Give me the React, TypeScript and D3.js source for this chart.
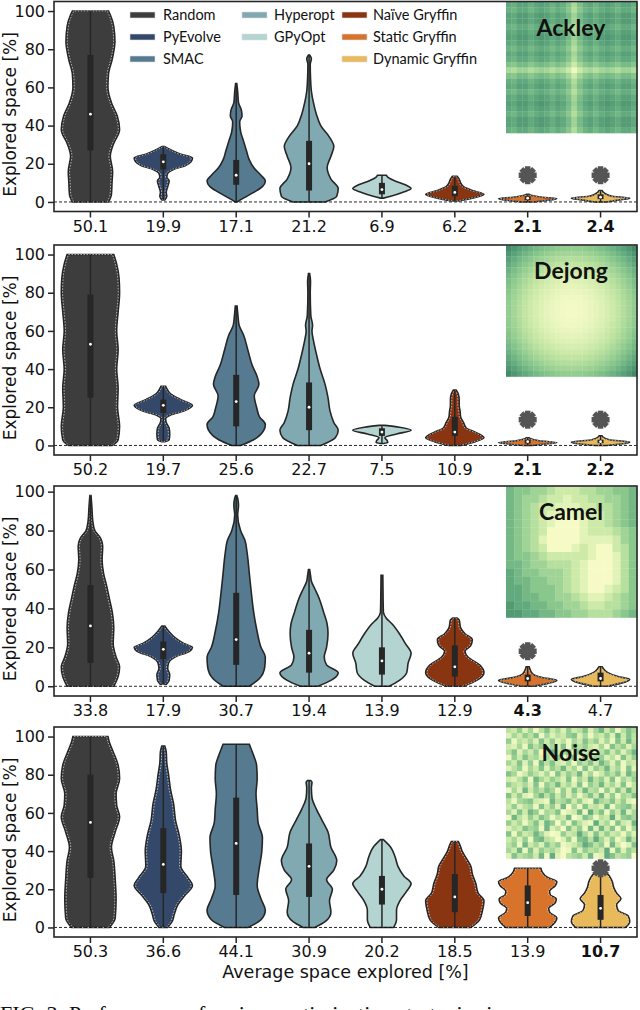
import React, { useEffect, useRef } from "react";
import * as d3 from "d3";

// optimizers, in plotting order
const methods = ["Random", "PyEvolve", "SMAC", "Hyperopt", "GPyOpt", "Naïve Gryffin", "Static Gryffin", "Dynamic Gryffin"];
const methodColors = ["#3d3d3d", "#34496a", "#567b91", "#80a9b1", "#b3d4d0", "#8a3511", "#d8732b", "#e8ba5c"];
const legendCol = [0, 0, 0, 1, 1, 2, 2, 2];
const legendRow = [0, 1, 2, 0, 1, 0, 1, 2];
const withInnerDash = [0, 1, 5, 6, 7];

const panelNames = ["Ackley", "Dejong", "Camel", "Noise"];

// average explored space (x tick labels)
const ackleyAvg = ["50.1", "19.9", "17.1", "21.2", "6.9", "6.2", "2.1", "2.4"];
const dejongAvg = ["50.2", "19.7", "25.6", "22.7", "7.5", "10.9", "2.1", "2.2"];
const camelAvg = ["33.8", "17.9", "30.7", "19.4", "13.9", "12.9", "4.3", "4.7"];
const noiseAvg = ["50.3", "36.6", "44.1", "30.9", "20.2", "18.5", "13.9", "10.7"];
const ackleyBold = [6, 7];
const dejongBold = [6, 7];
const camelBold = [6];
const noiseBold = [7];

// violin outlines: [explored %, relative half width]
const ackleyShapes = [
  [[0, 0.62], [4, 0.72], [10, 0.74], [16, 0.76], [24, 0.68], [30, 0.78], [38, 1.0], [45, 0.92], [52, 0.72], [60, 0.6], [67, 0.62], [75, 0.75], [84, 0.84], [92, 0.8], [98, 0.68], [100, 0.62]],
  [[1, 0.05], [3, 0.12], [5, 0.1], [8, 0.15], [11, 0.2], [13, 0.12], [15, 0.15], [17, 0.35], [19, 0.75], [21, 0.95], [23, 1.0], [25, 0.6], [27, 0.3], [29, 0.05]],
  [[0, 0.03], [2, 0.25], [5, 0.6], [8, 0.9], [11, 1.0], [14, 0.85], [18, 0.6], [22, 0.45], [27, 0.35], [32, 0.25], [37, 0.15], [42, 0.12], [45, 0.2], [48, 0.18], [52, 0.08], [58, 0.05], [62, 0.02]],
  [[0, 0.55], [3, 0.95], [7, 1.0], [12, 0.75], [18, 0.62], [24, 0.75], [29, 0.85], [34, 0.7], [40, 0.4], [46, 0.25], [52, 0.15], [58, 0.08], [65, 0.05], [72, 0.04], [75, 0.08], [77, 0.02]],
  [[2, 0.05], [3, 0.3], [5, 0.7], [7, 1.0], [9, 0.8], [11, 0.45], [13, 0.2], [14, 0.15]],
  [[0.5, 0.1], [2, 0.6], [4, 1.0], [6, 0.6], [8, 0.3], [10, 0.2], [12, 0.15], [13.5, 0.08]],
  [[0, 0.2], [1, 0.8], [1.8, 1.0], [2.5, 0.5], [3.5, 0.12], [4, 0.05]],
  [[0, 0.2], [1.2, 0.7], [2, 1.0], [3, 0.4], [4, 0.2], [5, 0.1], [6, 0.05]],
];
// inner box: [low whisker, q1, median, q3, high whisker]
const ackleyBoxes = [[0, 27, 46, 77, 100], [1, 17, 21, 25, 29], [0, 9, 14, 22, 62], [0, 6, 20, 32, 77], [2, 4, 6.5, 10, 14], [0.5, 3, 5, 8.5, 13], [0, 1, 2, 3, 4], [0, 1.5, 2.5, 4, 6]];

const dejongShapes = [
  [[0, 0.75], [3, 0.95], [10, 1.0], [20, 0.93], [30, 0.95], [40, 0.9], [50, 0.95], [60, 0.9], [70, 0.95], [80, 1.0], [88, 0.98], [95, 0.9], [100, 0.8]],
  [[2, 0.05], [3, 0.2], [6, 0.22], [9, 0.2], [12, 0.1], [14, 0.08], [16, 0.25], [18, 0.7], [21, 1.0], [24, 0.6], [27, 0.25], [29, 0.15], [31, 0.08]],
  [[0, 0.15], [3, 0.6], [8, 0.95], [11, 1.0], [15, 0.8], [20, 0.7], [26, 0.62], [32, 0.78], [36, 0.72], [42, 0.55], [50, 0.4], [58, 0.25], [63, 0.1], [68, 0.06], [73, 0.03]],
  [[0, 0.4], [4, 0.9], [8, 1.0], [12, 0.85], [18, 0.72], [25, 0.65], [32, 0.55], [40, 0.38], [48, 0.25], [55, 0.15], [60, 0.1], [63, 0.12], [68, 0.06], [80, 0.04], [86, 0.05], [90, 0.02]],
  [[1, 0.05], [1.5, 0.2], [2.5, 0.18], [4, 0.1], [6, 0.5], [8, 1.0], [9.5, 0.6], [10.5, 0.1]],
  [[0, 0.2], [2, 0.7], [4, 1.0], [7, 0.7], [9, 0.4], [12, 0.3], [15, 0.2], [18, 0.18], [21, 0.15], [24, 0.15], [27, 0.12], [29, 0.05]],
  [[0, 0.15], [1, 0.8], [1.5, 1.0], [2.5, 0.4], [3.5, 0.1], [4, 0.05]],
  [[0, 0.2], [1, 0.85], [1.8, 1.0], [3, 0.3], [4, 0.12], [5, 0.05]],
];
const dejongBoxes = [[0, 25, 53, 79, 100], [2, 17, 21, 24, 31], [0, 10, 23, 37, 73], [0, 8, 20, 33, 90], [1, 5, 7, 9, 10], [0, 5, 7, 15, 29], [0, 1, 2, 3, 4], [0, 1.2, 2, 3, 5]];

const camelShapes = [
  [[0, 0.8], [5, 0.95], [10, 1.0], [15, 0.88], [22, 0.78], [30, 0.8], [38, 0.75], [45, 0.65], [52, 0.55], [58, 0.45], [65, 0.4], [72, 0.42], [76, 0.35], [80, 0.15], [85, 0.08], [92, 0.05], [98, 0.02]],
  [[1, 0.1], [3, 0.2], [6, 0.22], [9, 0.15], [12, 0.18], [15, 0.4], [18, 0.9], [20, 1.0], [22, 0.7], [25, 0.4], [28, 0.2], [31, 0.05]],
  [[0, 0.45], [4, 0.8], [10, 0.98], [15, 1.0], [20, 0.85], [28, 0.72], [38, 0.6], [48, 0.52], [58, 0.45], [68, 0.38], [75, 0.3], [80, 0.15], [88, 0.05], [93, 0.08], [96, 0.06], [98, 0.02]],
  [[0, 0.3], [3, 0.75], [7, 1.0], [11, 0.6], [15, 0.52], [20, 0.6], [27, 0.65], [32, 0.62], [38, 0.5], [45, 0.35], [50, 0.2], [54, 0.08], [57, 0.05], [60, 0.02]],
  [[0, 0.25], [3, 0.6], [7, 0.85], [12, 0.9], [17, 1.0], [22, 0.8], [27, 0.6], [32, 0.35], [35, 0.15], [38, 0.05], [45, 0.04], [57, 0.03]],
  [[0, 0.3], [3, 0.75], [7, 1.0], [11, 0.85], [15, 0.45], [18, 0.35], [21, 0.55], [24, 0.6], [27, 0.35], [30, 0.2], [34, 0.15], [35, 0.08]],
  [[0, 0.15], [1.5, 0.7], [3, 1.0], [4.5, 0.5], [6, 0.2], [8, 0.1], [10, 0.05]],
  [[0, 0.2], [2, 0.8], [3.5, 1.0], [5, 0.6], [7, 0.25], [9, 0.1], [10, 0.05]],
];
const camelBoxes = [[0, 12, 31, 52, 98], [1, 14, 19, 23, 31], [0, 11, 24, 48, 98], [0, 7, 17, 29, 60], [0, 6, 13, 20, 57], [0, 5, 10, 21, 35], [0, 2.5, 4, 6, 10], [0, 2.5, 4, 7, 10]];

const noiseShapes = [
  [[0, 0.65], [5, 0.85], [15, 0.88], [25, 0.85], [35, 0.8], [42, 0.72], [50, 0.85], [58, 1.0], [64, 0.9], [70, 0.88], [78, 1.0], [85, 0.95], [92, 0.78], [97, 0.65], [100, 0.6]],
  [[0, 0.15], [3, 0.3], [7, 0.38], [12, 0.5], [17, 0.75], [22, 1.0], [26, 0.85], [32, 0.6], [40, 0.62], [48, 0.55], [56, 0.42], [65, 0.35], [72, 0.25], [80, 0.18], [86, 0.12], [92, 0.1], [95, 0.05]],
  [[0, 0.4], [4, 0.85], [9, 1.0], [15, 0.85], [22, 0.72], [30, 0.78], [40, 0.88], [47, 0.9], [55, 0.75], [62, 0.72], [70, 0.68], [78, 0.72], [85, 0.7], [90, 0.6], [94, 0.5], [96, 0.45]],
  [[0, 0.2], [3, 0.55], [8, 0.75], [14, 0.7], [20, 0.8], [25, 0.6], [30, 0.85], [35, 0.95], [42, 0.75], [50, 0.65], [56, 0.45], [62, 0.25], [68, 0.1], [73, 0.08], [76, 0.1], [77, 0.05]],
  [[0, 0.4], [4, 0.5], [9, 0.5], [14, 0.62], [19, 0.85], [23, 1.0], [27, 0.75], [32, 0.55], [37, 0.45], [42, 0.3], [46, 0.05]],
  [[0, 0.55], [4, 0.85], [9, 0.95], [14, 1.0], [18, 0.8], [23, 0.72], [28, 0.6], [32, 0.55], [36, 0.4], [40, 0.25], [43, 0.18], [45, 0.12]],
  [[0, 0.75], [3, 0.95], [5, 1.0], [8, 0.75], [10, 0.72], [13, 0.95], [15, 0.98], [17, 0.78], [19, 0.75], [22, 0.95], [24, 1.0], [26, 0.7], [29, 0.5], [31, 0.45]],
  [[0, 0.85], [3, 1.0], [6, 0.95], [9, 0.6], [12, 0.55], [15, 0.7], [18, 0.55], [21, 0.45], [24, 0.4], [27, 0.3], [30, 0.1], [31, 0.05]],
];
const noiseBoxes = [[0, 26, 55, 80, 100], [0, 18, 33, 52, 95], [0, 17, 44, 68, 96], [0, 16, 32, 44, 77], [0, 12, 20, 27, 46], [0, 8, 16, 28, 45], [0, 6, 13, 22, 31], [0, 4, 10, 17, 31]];

// grey asterisk markers
const starPanel = [0, 0, 1, 1, 2, 3];
const starMethod = [6, 7, 6, 7, 6, 7];
const starValue = [14, 14, 13.5, 13.5, 18, 31];

// inset landscapes (0 = light, 1 = dark)
const ackleyProfile = [0.82, 0.72, 0.92, 0.92, 0.72, 0.86, 0.96, 0.86, 0.68, 0.86, 0.74, 0.46, 0.04, 0.46, 0.74, 0.86, 0.68, 0.86, 0.96, 0.86, 0.72, 0.92, 0.92, 0.74];
const dejongProfile = [1, 0.83, 0.68, 0.55, 0.43, 0.33, 0.24, 0.17, 0.11, 0.06, 0.03, 0.01, 0.01, 0.03, 0.06, 0.11, 0.17, 0.24, 0.33, 0.43, 0.55, 0.68, 0.83, 1];
// digits: 9 = brightest
const camelGrid = [
  "3445567776655443",
  "3455677877665543",
  "3456778887766543",
  "3456788988776543",
  "3456789998776543",
  "3456799998777654",
  "3456899998888754",
  "3456799987899764",
  "3445677777899864",
  "3345566678999864",
  "2344555678999864",
  "2334455678999864",
  "2234445678998764",
  "2233445567887654",
  "1223344556776654",
  "1122334455666543",
];
// digits: 0 = lightest
const noiseGrid = [
  "436251473526347258361475",
  "253647152436725143628374",
  "614352736241537462517384",
  "325174635271846325174625",
  "472536148357263514736258",
  "163745253614728356241736",
  "537261847325164738526143",
  "246153726483517264835172",
  "751364251736482513647285",
  "324718536427153846271536",
  "643527164835271648352714",
  "152836475162738451627384",
  "736215847362514738261547",
  "415673218457362185473621",
  "362451736280517342815673",
  "527386154702381947163825",
  "184263751438027514392675",
  "635147286051742193517328",
  "243756182407361828371615",
  "716348520163495273634152",
  "352617843026178495261384",
  "461835274612359746183027",
  "538172645301726453917264",
  "274563819204563812974560",
];

const panelTops = [1.5, 245, 486, 727];
const panelYMax = [105, 105, 102.9, 105];

function App() {
  const svgRef = useRef<SVGSVGElement>(null);

  useEffect(() => {
    const svg = d3.select(svgRef.current);
    svg.selectAll("*").remove();

    const left = 54, right = 637, ph = 210;
    const ink = "#262626";
    const tickFont = "'DejaVu Sans', sans-serif";

    const x = d3.scaleBand().domain(methods).range([left, right]).padding(0);
    const color = d3.scaleOrdinal<string, string>().domain(methods).range(methodColors);
    const half = d3.scaleLinear().domain([0, 1]).range([0, x.bandwidth() * 0.4]);
    const heat = d3.scaleLinear<string>()
      .domain([0, 0.25, 0.5, 0.75, 1])
      .range(["#f6fbc6", "#c6e7a4", "#8fcb8f", "#5fa87d", "#3f8363"])
      .clamp(true);

    const avgs = [ackleyAvg, dejongAvg, camelAvg, noiseAvg];
    const bolds = [ackleyBold, dejongBold, camelBold, noiseBold];
    const shapes = [ackleyShapes, dejongShapes, camelShapes, noiseShapes];
    const boxes = [ackleyBoxes, dejongBoxes, camelBoxes, noiseBoxes];

    // inset cell values
    const grids: number[][][] = [
      ackleyProfile.map((a) => ackleyProfile.map((b) => ((a + b) / 2) * 0.9)),
      dejongProfile.map((a) => dejongProfile.map((b) => ((a + b) / 2) * 0.95)),
      camelGrid.map((row) => row.split("").map((c) => ((9 - +c) / 9) * 0.95)),
      noiseGrid.map((row) => row.split("").map((c) => +c * 0.085 - 0.04)),
    ];

    panelNames.forEach((name, pi) => {
      const top = panelTops[pi];
      const y = d3.scaleLinear().domain([-5, panelYMax[pi]]).range([top + ph, top]);
      const g = svg.append("g");

      // inset heatmap, top right
      const grid = grids[pi];
      const n = grid.length;
      const ix = d3.scaleBand().domain(d3.range(n).map(String)).range([506, right]);
      const iy = d3.scaleBand().domain(d3.range(n).map(String)).range([top + 0.5, top + 131.5]);
      const inset = g.append("g");
      grid.forEach((row, r) => {
        inset.selectAll(null)
          .data(row)
          .join("rect")
          .attr("x", (_, c) => ix(String(c))!)
          .attr("y", iy(String(r))!)
          .attr("width", ix.bandwidth() + 0.3)
          .attr("height", iy.bandwidth() + 0.3)
          .attr("fill", (v) => heat(v));
      });
      inset.append("text")
        .attr("x", 571)
        .attr("y", top + 34)
        .attr("text-anchor", "middle")
        .style("font-family", "Lato, 'Open Sans', sans-serif")
        .style("font-weight", "bold")
        .style("font-size", "23px")
        .attr("fill", "#111")
        .text(name);

      // violins
      shapes[pi].forEach((shape, mi) => {
        const cx = x(methods[mi])! + x.bandwidth() / 2;
        const area = d3.area<number[]>()
          .y((d) => y(d[0]))
          .x0((d) => cx - half(d[1]))
          .x1((d) => cx + half(d[1]))
          .curve(d3.curveMonotoneY);
        g.append("path")
          .attr("d", area(shape as number[][]))
          .attr("fill", color(methods[mi]))
          .attr("stroke", ink)
          .attr("stroke-width", 1.6);

        if (withInnerDash.includes(mi)) {
          const inner = d3.area<number[]>()
            .y((d) => y(d[0]))
            .x0((d) => cx - Math.max(0, half(d[1]) - 1.3))
            .x1((d) => cx + Math.max(0, half(d[1]) - 1.3))
            .curve(d3.curveMonotoneY);
          g.append("path")
            .attr("d", inner(shape as number[][]))
            .attr("fill", "none")
            .attr("stroke", "#fff")
            .attr("stroke-width", 0.7)
            .attr("stroke-dasharray", "1.6,1.4")
            .attr("opacity", 0.85);
        }

        const [lo, q1, med, q3, hi] = boxes[pi][mi];
        g.append("line")
          .attr("x1", cx).attr("x2", cx)
          .attr("y1", y(lo)).attr("y2", y(hi))
          .attr("stroke", ink)
          .attr("stroke-width", 1.5);
        g.append("rect")
          .attr("x", cx - 3)
          .attr("width", 6)
          .attr("y", y(q3))
          .attr("height", y(q1) - y(q3))
          .attr("fill", ink);
        g.append("circle")
          .attr("cx", cx)
          .attr("cy", y(med))
          .attr("r", 1.4)
          .attr("fill", "#fff");
      });

      // asterisks
      starPanel.forEach((sp, si) => {
        if (sp !== pi) return;
        const cx = x(methods[starMethod[si]])! + x.bandwidth() / 2;
        const cy = y(starValue[si]);
        const s = g.append("g").attr("transform", `translate(${cx},${cy})`);
        [0, 45, 90, 135].forEach((a) => {
          s.append("line")
            .attr("x1", -9).attr("x2", 9)
            .attr("y1", 0).attr("y2", 0)
            .attr("transform", `rotate(${a})`)
            .attr("stroke", "#555")
            .attr("stroke-width", 5.5);
        });
        s.append("circle").attr("r", 5.5).attr("fill", "#555");
      });

      // zero line
      g.append("line")
        .attr("x1", left).attr("x2", right)
        .attr("y1", y(0)).attr("y2", y(0))
        .attr("stroke", "#111")
        .attr("stroke-width", 0.9)
        .attr("stroke-dasharray", "3,2");

      // frame
      g.append("rect")
        .attr("x", left).attr("y", top)
        .attr("width", right - left).attr("height", ph)
        .attr("fill", "none")
        .attr("stroke", ink)
        .attr("stroke-width", 1.6);

      // y axis
      const ya = g.append("g")
        .attr("transform", `translate(${left},0)`)
        .call(d3.axisLeft(y).tickValues([0, 20, 40, 60, 80, 100]).tickSize(6).tickPadding(3));
      ya.select(".domain").remove();
      ya.selectAll("line").attr("stroke", ink).attr("stroke-width", 1.5);
      ya.selectAll("text").style("font-family", tickFont).style("font-size", "16px").attr("fill", "#111");

      // x axis with averages
      const xa = g.append("g")
        .attr("transform", `translate(0,${top + ph})`)
        .call(d3.axisBottom(x).tickSize(6).tickPadding(3).tickFormat((_, i) => avgs[pi][i]));
      xa.select(".domain").remove();
      xa.selectAll("line").attr("stroke", ink).attr("stroke-width", 1.5);
      xa.selectAll("text")
        .style("font-family", tickFont)
        .style("font-size", "16px")
        .style("font-weight", (_, i) => (bolds[pi].includes(i) ? "bold" : "normal"))
        .attr("fill", "#111");

      // y label
      g.append("text")
        .attr("transform", `translate(15.5,${top + ph / 2 + 8}) rotate(-90)`)
        .attr("text-anchor", "middle")
        .style("font-family", tickFont)
        .style("font-size", "17px")
        .attr("fill", "#111")
        .text("Explored space [%]");

      // legend in the first panel
      if (pi === 0) {
        const colSwatch = [130, 242, 342];
        const colText = [163, 274, 373];
        const rowY = [15, 37, 59];
        methods.forEach((m, mi) => {
          const cy = rowY[legendRow[mi]];
          g.append("rect")
            .attr("x", colSwatch[legendCol[mi]])
            .attr("y", cy - 3)
            .attr("width", 25)
            .attr("height", 6)
            .attr("fill", color(m))
            .attr("stroke", "#ddd")
            .attr("stroke-width", 0.6);
          g.append("text")
            .attr("x", colText[legendCol[mi]])
            .attr("y", cy + 5)
            .style("font-family", "Lato, 'Open Sans', sans-serif")
            .style("font-size", "14.5px")
            .attr("fill", "#111")
            .text(m);
        });
      }
    });

    // x label
    svg.append("text")
      .attr("x", (left + right) / 2)
      .attr("y", 978)
      .attr("text-anchor", "middle")
      .style("font-family", tickFont)
      .style("font-size", "17.5px")
      .attr("fill", "#111")
      .text("Average space explored [%]");

    // caption, cut off by the page edge as in the source figure
    svg.append("text")
      .attr("x", 0)
      .attr("y", 1021)
      .style("font-family", "'Liberation Serif', 'DejaVu Serif', serif")
      .style("font-size", "22px")
      .attr("fill", "#111")
      .text("FIG. 3:  Performance of various optimization strategies in");
  }, []);

  return (
    <svg ref={svgRef} width={640} height={1010} style={{ position: "absolute", left: 0, top: 0, background: "#fff" }} />
  );
}

export default App;
